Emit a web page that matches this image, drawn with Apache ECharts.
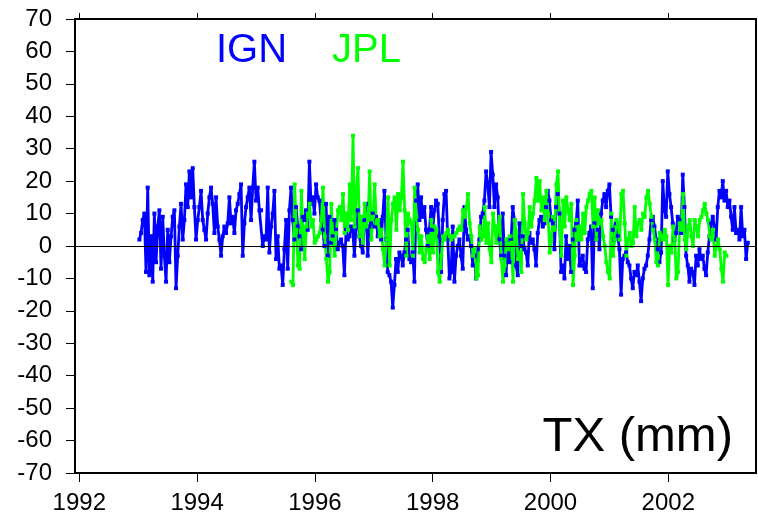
<!DOCTYPE html>
<html><head><meta charset="utf-8">
<script src="https://cdn.jsdelivr.net/npm/echarts@6/dist/echarts.min.js"></script>
<style>html,body{margin:0;padding:0;background:#fff}#c{width:758px;height:522px}</style>
</head><body><div id="c"></div>
<script>
// ---- data ----
const xTicks = [1992, 1994, 1996, 1998, 2000, 2002];
const xRange = [1991.927, 2003.489];
const yRange = [-70, 70];
const yStep = 10;
const seriesNames = ['IGN', 'JPL'];
const unitLabel = 'TX (mm)';
const sampleStep = 0.0283;   // years between samples
const ignStart = 1993.02;
const jplStart = 1995.60;

// IGN, 1993.0 - 1995.6
const ignPart1 = [2,4,8,10,-8,18,-9,3,-11,10,-5,6,11,-7,9,-3,-11,5,-5,3,9,11,-13,-3,6,13,2,8,19,12,23,15,24,12,2,8,12,17,8,5,2,10,15,18,13,4,15,6,2,-3,3,6,4,7,15,7,9,4,11,13,16,19,-3,7,12,15,18,8,18,26,14,18,11,11,0,3,2,18,-2,6,10,17,-4,3,-7,-6,-12,-1,8,-7,11];
// IGN, 1995.6 - 1997.95
const ignPart2 = [18,8,2,12,6,3,-1,9,8,11,5,26,13,15,10,19,15,14,8,5,0,13,-3,9,1,3,8,5,-1,1,2,0,-9,5,2,3,6,5,-3,6,11,3,0,-2,8,13,-3,6,7,10,6,9,3,8,2,9,17,2,-8,-9,-11,-19,-12,-4,-8,-2,-3,-6,-2,2,5,-4,-5,-2,-11,14,19,8,15,9,12,5,0,5];
// IGN, 1997.95 - 2000.5
const ignPart3 = [12,5,11,14,13,3,-8,8,16,17,2,-10,-8,6,-11,-3,0,2,-3,-7,12,5,2,3,0,-6,-3,-10,-1,2,9,10,14,23,19,12,29,22,12,19,15,2,-3,10,-3,-9,2,-5,2,12,8,-6,-9,7,0,3,-1,-2,-6,4,1,2,-1,-6,4,8,9,6,7,12,17,14,8,7,-1,12,16,10,-8,-6,-10,3,-4,0,-8,2,5,7,14,-6];
// IGN, 2000.5 - 2003.35
const ignPart4 = [-6,-3,-7,-8,2,4,6,-13,7,2,5,-1,10,14,16,12,17,19,9,5,2,7,3,-1,-15,-4,-3,-2,-5,-6,-10,-13,-8,-9,-6,-11,-17,-10,-7,-6,-3,2,8,9,6,2,-1,-5,-2,20,11,9,23,16,12,7,2,4,9,8,4,22,12,-3,-6,-11,-7,-8,-12,-3,-6,-1,-4,-3,-7,-9,-2,3,7,9,6,2,12,17,15,20,14,17,12,14,9,5,12,4,5,2,12,3,5,-4,1];

// JPL, 1995.6 - 1997.95
const jplPart1 = [-11,-12,19,5,-6,-7,17,5,-4,6,10,13,6,8,1,2,3,4,8,18,3,-4,-11,-8,13,2,-3,4,11,12,8,16,4,10,5,19,8,34,6,17,24,3,9,1,13,6,8,23,2,9,19,7,8,3,5,-1,-6,2,15,-6,8,13,15,5,16,11,15,26,11,-3,10,8,7,-3,18,9,5,-2,3,-4,-5,-1,3,-4];
// JPL, 1997.95 - 2000.5
const jplPart2 = [8,-2,6,5,-8,-11,-3,3,2,4,5,3,2,3,3,4,5,6,5,11,9,12,16,7,3,-3,-1,-10,-9,6,2,3,12,1,7,-1,-5,10,6,1,6,9,-4,-11,-6,2,-1,3,1,-11,8,4,-4,-2,-8,16,7,2,4,12,6,10,14,21,14,20,11,15,8,17,10,-2,2,9,5,19,23,6,-3,14,6,15,11,8,13,-12,-3,8,2,6];
// JPL, 2000.5 - 2003.0
const jplPart3 = [2,10,4,12,14,16,17,6,15,2,11,7,8,3,0,-5,-8,-10,10,-3,2,8,7,2,16,17,7,-3,2,4,0,1,12,3,7,8,5,10,9,15,17,13,9,5,2,-5,-6,4,3,2,5,3,-12,0,-2,6,2,-10,-8,7,5,16,2,-1,6,8,3,0,8,6,3,8,9,11,13,10,8,3,2,5,-3,0,2,-1,-7,-11,-2,-3];

// ---- build ----
const ignValues = ignPart1.concat(ignPart2, ignPart3, ignPart4);
const jplValues = jplPart1.concat(jplPart2, jplPart3);
function toPairs(start, vals) { return vals.map((v, i) => [start + i * sampleStep, v]); }

const FONT = '"Liberation Sans", Arial, Helvetica, sans-serif';
const chart = echarts.init(document.getElementById('c'), null, { renderer: 'canvas' });

function lineSeries(name, color, data, extra) {
  return Object.assign({
    type: 'line', name: name, data: data,
    symbol: 'rect', symbolSize: 4, showSymbol: true, showAllSymbol: true,
    lineStyle: { color: color, width: 2.8, join: 'round' },
    itemStyle: { color: color },
    emphasis: { disabled: true },
    silent: true
  }, extra || {});
}

chart.setOption({
  animation: false,
  backgroundColor: '#ffffff',
  grid: { left: 75, top: 19, width: 681, height: 454, show: true, borderColor: '#000', borderWidth: 2, backgroundColor: 'transparent' },
  xAxis: [
    { type: 'value', min: xRange[0], max: xRange[1], position: 'bottom',
      splitLine: { show: false },
      axisLine: { show: false, onZero: false },
      axisTick: { show: true, length: 9, customValues: xTicks, lineStyle: { color: '#000', width: 1 } },
      axisLabel: { customValues: xTicks, color: '#000', fontSize: 24, fontFamily: FONT, margin: 18, formatter: v => String(Math.round(v)) } },
    { type: 'value', min: xRange[0], max: xRange[1], position: 'top',
      splitLine: { show: false },
      axisLine: { show: false, onZero: false },
      axisTick: { show: true, length: 6, customValues: xTicks, lineStyle: { color: '#000', width: 1 } },
      axisLabel: { show: false } }
  ],
  yAxis: {
    type: 'value', min: yRange[0], max: yRange[1], interval: yStep,
    splitLine: { show: false },
    axisLine: { show: false },
    axisTick: { show: true, length: 9, lineStyle: { color: '#000', width: 1 } },
    axisLabel: { color: '#000', fontSize: 24, fontFamily: FONT, margin: 23 }
  },
  series: [
    lineSeries(seriesNames[0], '#0000ff', toPairs(ignStart, ignValues)),
    lineSeries(seriesNames[1], '#00ff00', toPairs(jplStart, jplValues), {
      markLine: { silent: true, symbol: 'none', label: { show: false },
        lineStyle: { color: '#000', width: 1, type: 'solid' },
        emphasis: { disabled: true },
        data: [{ yAxis: 0 }] }
    })
  ],
  graphic: [
    { type: 'text', left: 216, top: 31, style: { text: seriesNames[0], fill: '#0000ff', font: '40px ' + FONT } },
    { type: 'text', left: 332, top: 31, style: { text: seriesNames[1], fill: '#00ff00', font: '40px ' + FONT } },
    { type: 'text', right: 25, top: 413, style: { text: unitLabel, fill: '#000', font: '49px ' + FONT } }
  ]
});
</script>
</body></html>
